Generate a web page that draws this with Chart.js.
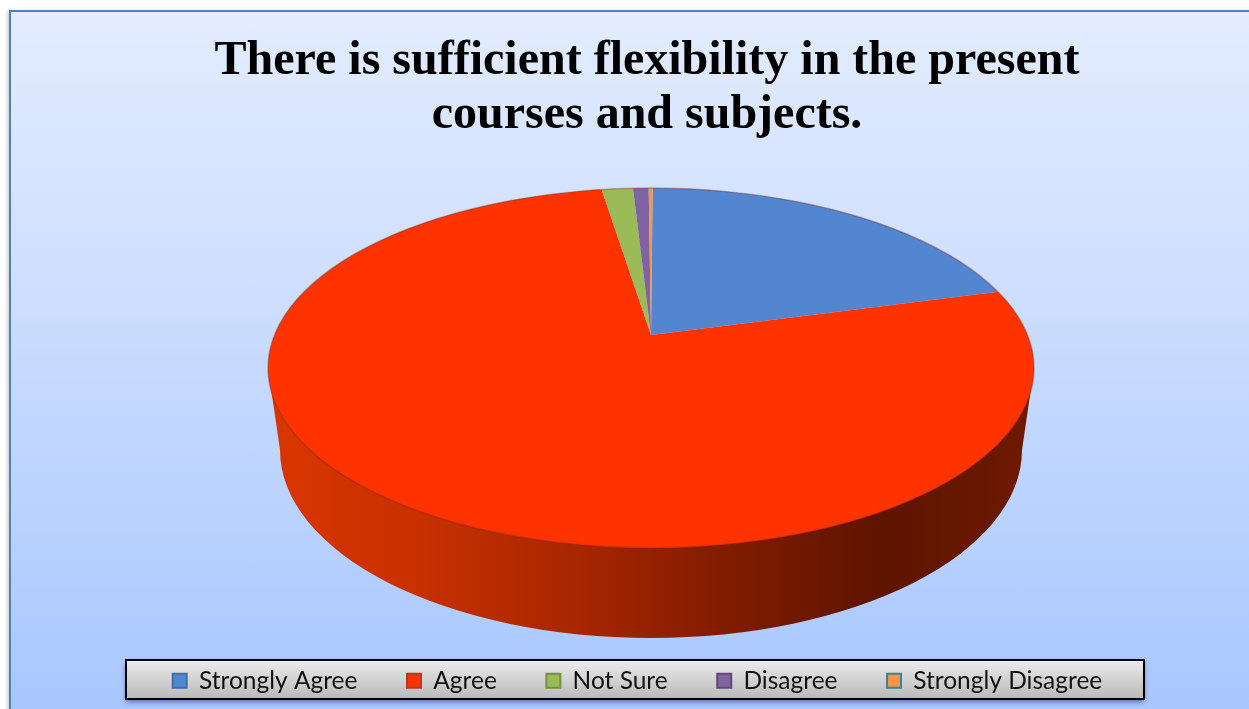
<!DOCTYPE html>
<html lang="en">
<head>
    <meta charset="UTF-8">
    <title>Flexibility in courses and subjects</title>
    <script src="https://cdn.jsdelivr.net/npm/chart.js"></script>
    <style>
        html, body { margin: 0; padding: 0; background: #fff; overflow: hidden; }
        #frame {
            position: absolute; left: 9px; top: 10px; width: 1300px; height: 760px;
            border: 2px solid #4f81bd; box-sizing: border-box;
            background: linear-gradient(to bottom, #e3ecff 0%, #cfdffe 35%, #a9c8ff 90%, #a8c7ff 100%);
            box-shadow: -2px 1px 3px rgba(0,0,0,0.18);
        }
        #chart { position: absolute; left: 0; top: 0; }
    </style>
</head>
<body>
    <div id="frame"></div>
    <canvas id="chart" width="1249" height="709"></canvas>

    <script>
        const titleLines = ["There is sufficient flexibility in the present", "courses and subjects."];
        const categories = ["Strongly Agree", "Agree", "Not Sure", "Disagree", "Strongly Disagree"];
        const shares = [20.8, 76.6, 1.6, 0.8, 0.2];
        const sliceColors = ["#5286d0", "#ff3300", "#9bbb59", "#8064a2", "#f79646"];
        const swatchBorders = ["#3f6fa8", "#b5382a", "#76923c", "#5f497a", "#31859c"];

        // top face and underside of the pie as drawn on the page
        const apex = { x: 651, y: 335 };
        const topFace = { x: 651, y: 368, rx: 383, ry: 180 };
        const underside = { x: 651, y: 450, rx: 371, ry: 188 };
        const tilt = 0.47;

        const pie3d = {
            id: "pie3d",
            beforeDraw(chart) {
                // legend panel
                const ctx = chart.ctx;
                ctx.save();
                const g = ctx.createLinearGradient(0, 660, 0, 699);
                g.addColorStop(0, "#ececec");
                g.addColorStop(1, "#b9b9b9");
                ctx.shadowColor = "rgba(0,0,40,0.45)";
                ctx.shadowBlur = 5;
                ctx.shadowOffsetY = 3;
                ctx.fillStyle = g;
                ctx.fillRect(126, 660, 1018, 39);
                ctx.shadowColor = "transparent";
                ctx.strokeStyle = "#000";
                ctx.lineWidth = 2;
                ctx.strokeRect(126, 660, 1018, 39);
                ctx.restore();
            },
            beforeDatasetsDraw(chart) {
                const ctx = chart.ctx;
                const arc = chart.getDatasetMeta(0).data[0];

                // side wall
                ctx.save();
                const wall = ctx.createLinearGradient(268, 0, 1034, 0);
                wall.addColorStop(0, "#d93600");
                wall.addColorStop(0.2, "#c83000");
                wall.addColorStop(0.4, "#a82600");
                wall.addColorStop(0.6, "#801c00");
                wall.addColorStop(0.8, "#5e1400");
                wall.addColorStop(1, "#6e1a00");
                ctx.fillStyle = wall;
                ctx.beginPath();
                ctx.moveTo(topFace.x - topFace.rx, topFace.y);
                ctx.lineTo(underside.x - underside.rx, underside.y);
                ctx.ellipse(underside.x, underside.y, underside.rx, underside.ry, 0, Math.PI, 0, true);
                ctx.lineTo(topFace.x + topFace.rx, topFace.y);
                ctx.closePath();
                ctx.fill();
                ctx.restore();

                // top face: library arcs, squashed around the apex and trimmed to the ellipse
                ctx.save();
                ctx.beginPath();
                ctx.ellipse(topFace.x, topFace.y, topFace.rx, topFace.ry, 0, 0, Math.PI * 2);
                ctx.clip();
                const k = 480 / arc.outerRadius;
                ctx.translate(apex.x, apex.y);
                ctx.scale(k, k * tilt);
                ctx.translate(-arc.x, -arc.y);
            },
            afterDatasetsDraw(chart) {
                const ctx = chart.ctx;
                ctx.restore();
                ctx.save();
                ctx.strokeStyle = "rgba(120,40,20,0.35)";
                ctx.lineWidth = 1.5;
                ctx.beginPath();
                ctx.ellipse(topFace.x, topFace.y, topFace.rx, topFace.ry, 0, 0, Math.PI * 2);
                ctx.stroke();
                ctx.restore();
            },
            afterLayout(chart) {
                // title sits a little right of the legend
                chart.titleBlock.left += 19;
            }
        };

        new Chart(document.getElementById("chart"), {
            type: "pie",
            data: {
                labels: categories,
                datasets: [{
                    data: shares,
                    backgroundColor: sliceColors,
                    borderWidth: 0,
                    clip: false
                }]
            },
            plugins: [pie3d],
            options: {
                responsive: false,
                animation: false,
                rotation: 0.3,
                layout: { padding: { left: 26, right: 0, top: 0, bottom: 6 } },
                plugins: {
                    tooltip: { enabled: false },
                    title: {
                        display: true,
                        text: titleLines,
                        color: "#000",
                        font: { family: "'Liberation Serif'", size: 48, weight: "bold", lineHeight: 1.125 },
                        padding: { top: 35, bottom: 0 }
                    },
                    legend: {
                        position: "bottom",
                        labels: {
                            color: "#111",
                            font: { family: "Lato", size: 24.5 },
                            boxWidth: 14,
                            boxHeight: 14,
                            padding: 49.5,
                            generateLabels(chart) {
                                return Chart.overrides.pie.plugins.legend.labels.generateLabels(chart).map((item, i) => ({
                                    ...item,
                                    strokeStyle: swatchBorders[i],
                                    lineWidth: 2
                                }));
                            }
                        }
                    }
                }
            }
        });
    </script>
</body>
</html>
